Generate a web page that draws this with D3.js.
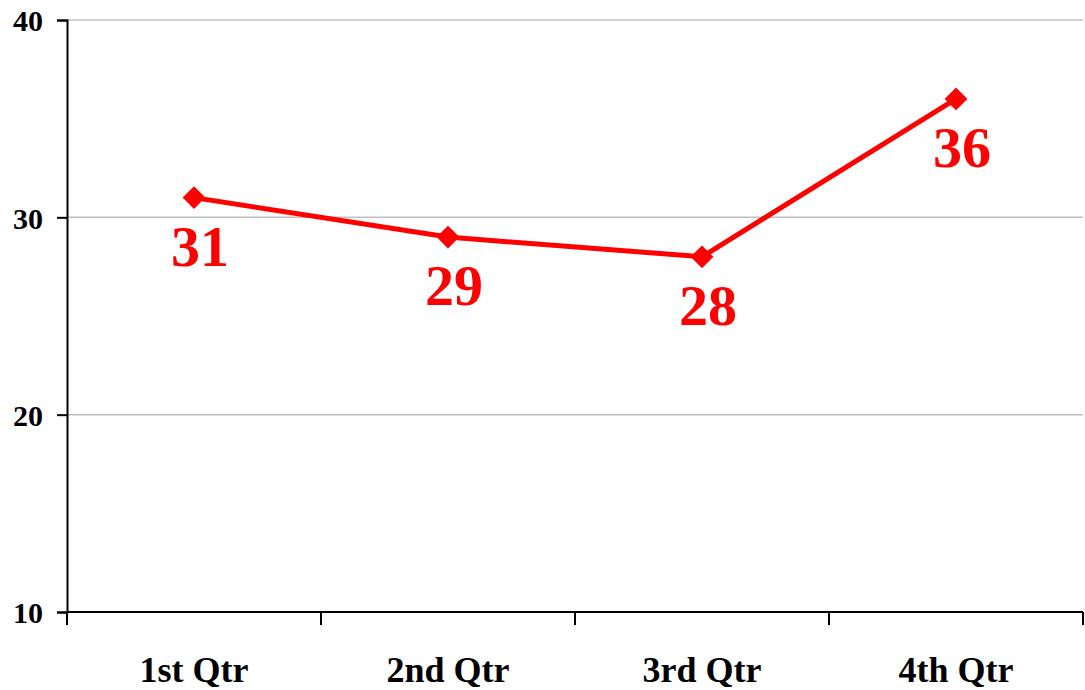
<!DOCTYPE html>
<meta charset="utf-8">
<style>
    body { margin: 0; background: white; }
    text { font-family: "Liberation Serif", "Times New Roman", serif; font-weight: bold; }
</style>
<script src="https://d3js.org/d3.v7.min.js"></script>
<body>
<script>

    var categories = ["1st Qtr", "2nd Qtr", "3rd Qtr", "4th Qtr"]
    var values = [31, 29, 28, 36]
    var yTicks = [10, 20, 30, 40]

    var width = 1085
    var height = 690
    var margin = { top: 20, right: 2, bottom: 78, left: 67 }

    var svg = d3.select("body")
        .append("svg")
        .attr("width", width)
        .attr("height", height)

    var x = d3.scaleBand()
        .domain(categories)
        .range([margin.left, width - margin.right])

    var y = d3.scaleLinear()
        .domain([10, 40])
        .range([height - margin.bottom, margin.top])

    // gridlines
    svg.append("g")
        .selectAll("line")
        .data(yTicks.slice(1))
        .enter()
        .append("line")
        .attr("x1", margin.left)
        .attr("x2", width - margin.right)
        .attr("y1", function (d) { return y(d) })
        .attr("y2", function (d) { return y(d) })
        .attr("stroke", "#c0c0c0")
        .attr("stroke-width", 1.5)

    // y axis
    var yAxis = svg.append("g")
        .attr("transform", "translate(" + margin.left + ",0)")
        .call(d3.axisLeft(y).tickValues(yTicks).tickSize(10).tickPadding(14))
    yAxis.select(".domain").attr("stroke", "black").attr("stroke-width", 2)
    yAxis.selectAll(".tick line").attr("stroke", "black").attr("stroke-width", 2)
    yAxis.selectAll("text")
        .attr("font-size", "30px")
        .attr("fill", "black")
        .attr("dy", "0.36em")
        .style("font-family", "Liberation Serif")

    // x axis
    var xTickPos = categories.map(function (c) { return x(c) }).concat([width - margin.right])
    var xAxis = svg.append("g")
        .attr("transform", "translate(0," + y(10) + ")")
    xAxis.append("line")
        .attr("x1", margin.left)
        .attr("x2", width - margin.right)
        .attr("stroke", "black")
        .attr("stroke-width", 2)
    xAxis.selectAll(".xt")
        .data(xTickPos)
        .enter()
        .append("line")
        .attr("x1", function (d) { return d })
        .attr("x2", function (d) { return d })
        .attr("y1", 0)
        .attr("y2", 13)
        .attr("stroke", "black")
        .attr("stroke-width", 2)
    xAxis.selectAll(".xl")
        .data(categories)
        .enter()
        .append("text")
        .attr("x", function (d) { return x(d) + x.bandwidth() / 2 })
        .attr("y", 70)
        .attr("text-anchor", "middle")
        .attr("font-size", "36px")
        .text(function (d) { return d })

    // line
    var pts = categories.map(function (c, i) { return { cat: c, val: values[i] } })
    var line = d3.line()
        .x(function (d) { return x(d.cat) + x.bandwidth() / 2 })
        .y(function (d) { return y(d.val) })

    svg.append("path")
        .datum(pts)
        .attr("d", line)
        .attr("fill", "none")
        .attr("stroke", "red")
        .attr("stroke-width", 5)

    svg.selectAll(".marker")
        .data(pts)
        .enter()
        .append("path")
        .attr("d", d3.symbol().type(d3.symbolSquare).size(260))
        .attr("transform", function (d) {
            return "translate(" + (x(d.cat) + x.bandwidth() / 2) + "," + y(d.val) + ") rotate(45)"
        })
        .attr("fill", "red")

    svg.selectAll(".lbl")
        .data(pts)
        .enter()
        .append("text")
        .attr("x", function (d) { return x(d.cat) + x.bandwidth() / 2 + 6 })
        .attr("y", function (d) { return y(d.val) + 68 })
        .attr("text-anchor", "middle")
        .attr("font-size", "58px")
        .attr("fill", "red")
        .text(function (d) { return d.val })

</script>
